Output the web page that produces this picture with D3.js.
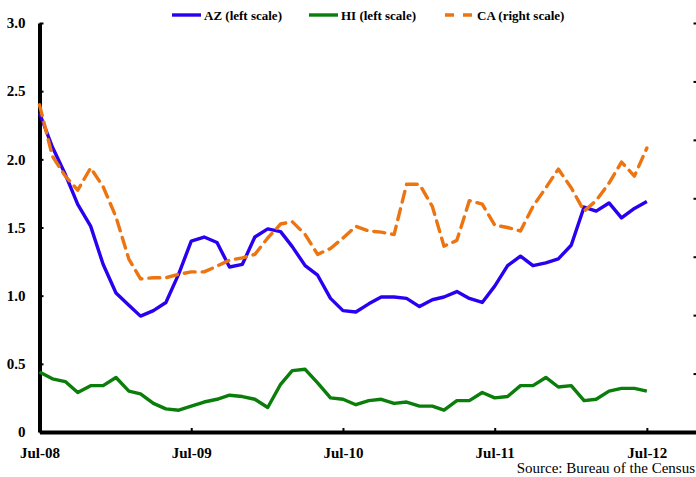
<!DOCTYPE html>
<html>
<head>
<meta charset="utf-8">
<script src="https://cdn.jsdelivr.net/npm/d3@7"></script>
<style>
  body { margin: 0; background: #fff; }
  svg { display: block; }
  .axis text { font-family: "Liberation Serif", "Times New Roman", serif; font-weight: bold; font-size: 15px; fill: #000; }
  .axis .domain { stroke: #000; stroke-width: 4px; }
  .axis .tick line { stroke: #000; stroke-width: 2px; }
</style>
</head>
<body>
<svg width="696" height="477"></svg>
<script>
// months, Jul-08 .. Jul-12
const months = [
  '2008-07','2008-08','2008-09','2008-10','2008-11','2008-12',
  '2009-01','2009-02','2009-03','2009-04','2009-05','2009-06',
  '2009-07','2009-08','2009-09','2009-10','2009-11','2009-12',
  '2010-01','2010-02','2010-03','2010-04','2010-05','2010-06',
  '2010-07','2010-08','2010-09','2010-10','2010-11','2010-12',
  '2011-01','2011-02','2011-03','2011-04','2011-05','2011-06',
  '2011-07','2011-08','2011-09','2011-10','2011-11','2011-12',
  '2012-01','2012-02','2012-03','2012-04','2012-05','2012-06',
  '2012-07'
];

// left scale
const az = [
  2.34, 2.09, 1.89, 1.67, 1.51, 1.23, 1.02, 0.93, 0.85, 0.89, 0.95, 1.16,
  1.40, 1.43, 1.39, 1.21, 1.23, 1.43, 1.49, 1.47, 1.36, 1.22, 1.15, 0.98,
  0.89, 0.88, 0.94, 0.99, 0.99, 0.98, 0.92, 0.97, 0.99, 1.03, 0.98, 0.95,
  1.07, 1.22, 1.29, 1.22, 1.24, 1.27, 1.37, 1.65, 1.62, 1.68, 1.57, 1.64,
  1.69
];
const hi = [
  0.44, 0.39, 0.37, 0.29, 0.34, 0.34, 0.40, 0.30, 0.28, 0.21, 0.17, 0.16,
  0.19, 0.22, 0.24, 0.27, 0.26, 0.24, 0.18, 0.35, 0.45, 0.46, 0.36, 0.25,
  0.24, 0.20, 0.23, 0.24, 0.21, 0.22, 0.19, 0.19, 0.16, 0.23, 0.23, 0.29,
  0.25, 0.26, 0.34, 0.34, 0.40, 0.33, 0.34, 0.23, 0.24, 0.30, 0.32, 0.32,
  0.30
];
// right scale
const ca = [
  28.0, 23.6, 21.9, 20.7, 22.6, 21.0, 18.4, 14.8, 13.1, 13.2, 13.2, 13.5,
  13.7, 13.7, 14.2, 14.7, 14.9, 15.2, 16.6, 17.8, 18.0, 16.9, 15.2, 15.7,
  16.6, 17.6, 17.2, 17.1, 16.9, 21.2, 21.2, 19.3, 15.9, 16.4, 19.8, 19.5,
  17.7, 17.5, 17.2, 19.3, 20.9, 22.5, 20.9, 18.9, 19.8, 21.3, 23.1, 21.9,
  24.3
];

const leftTicks = [0, 0.5, 1.0, 1.5, 2.0, 2.5, 3.0];
const rightTicks = [0, 5, 10, 15, 20, 25, 30, 35];
const xTickLabels = ['Jul-08', 'Jul-09', 'Jul-10', 'Jul-11', 'Jul-12'];

const seriesNames = ['AZ (left scale)', 'HI (left scale)', 'CA (right scale)'];
const seriesColors = ['#2a00f0', '#0a7d0a', '#ec7411'];

const parseMonth = d3.timeParse('%Y-%m');
const dates = months.map(parseMonth);

const svg = d3.select('svg');
const fontFamily = '"Liberation Serif", "Times New Roman", serif';

// scales
const x = d3.scaleTime()
  .domain([parseMonth('2008-07'), parseMonth('2012-11')])
  .range([39.5, 698]);
const yLeft = d3.scaleLinear().domain([0, 3]).range([432, 23]);
const yRight = d3.scaleLinear().domain([0, 35]).range([432, 23]);

const xTickDates = xTickLabels.map(d3.timeParse('%b-%y'));

// axes
svg.append('g')
  .attr('class', 'x axis')
  .attr('transform', 'translate(0,432)')
  .call(d3.axisBottom(x)
    .tickValues(xTickDates)
    .tickFormat((d, i) => xTickLabels[i])
    .tickSizeInner(-4)
    .tickSizeOuter(0)
    .tickPadding(15));

svg.append('g')
  .attr('class', 'y axis')
  .attr('transform', 'translate(39.5,0)')
  .call(d3.axisLeft(yLeft)
    .tickValues(leftTicks)
    .tickFormat(d => d === 0 ? '0' : d3.format('.1f')(d))
    .tickSizeInner(-4)
    .tickSizeOuter(0)
    .tickPadding(14));

// right axis: its labels fall outside the picture, only the ticks show
svg.append('g')
  .attr('class', 'y2 axis')
  .attr('transform', 'translate(697.5,0)')
  .call(d3.axisRight(yRight)
    .tickValues(rightTicks)
    .tickFormat('')
    .tickSizeInner(-4)
    .tickSizeOuter(0));

// lines
const lineLeft = d3.line()
  .x((d, i) => x(dates[i]))
  .y(d => yLeft(d));
const lineRight = d3.line()
  .x((d, i) => x(dates[i]))
  .y(d => yRight(d));

svg.append('path')
  .attr('d', lineLeft(hi))
  .style('fill', 'none')
  .style('stroke', seriesColors[1])
  .style('stroke-width', 3.4)
  .style('stroke-linejoin', 'round');

svg.append('path')
  .attr('d', lineLeft(az))
  .style('fill', 'none')
  .style('stroke', seriesColors[0])
  .style('stroke-width', 3.4)
  .style('stroke-linejoin', 'round');

svg.append('path')
  .attr('d', lineRight(ca))
  .style('fill', 'none')
  .style('stroke', seriesColors[2])
  .style('stroke-width', 3.4)
  .style('stroke-dasharray', '11,7')
  .style('stroke-linecap', 'round')
  .style('stroke-linejoin', 'round');

// legend
const legendX = [172, 309, 445];
const legend = svg.append('g').attr('class', 'legend');
seriesNames.forEach((name, i) => {
  legend.append('line')
    .attr('x1', legendX[i])
    .attr('x2', legendX[i] + 29)
    .attr('y1', 15)
    .attr('y2', 15)
    .style('stroke', seriesColors[i])
    .style('stroke-width', 3.4)
    .style('stroke-dasharray', i === 2 ? '9,9' : null);
  legend.append('text')
    .attr('x', legendX[i] + 32)
    .attr('y', 20)
    .style('font-family', fontFamily)
    .style('font-weight', 'bold')
    .style('font-size', '13px')
    .text(name);
});

// source note
svg.append('text')
  .attr('x', 695)
  .attr('y', 473)
  .attr('text-anchor', 'end')
  .style('font-family', fontFamily)
  .style('font-size', '15px')
  .text('Source: Bureau of the Census');
</script>
</body>
</html>
